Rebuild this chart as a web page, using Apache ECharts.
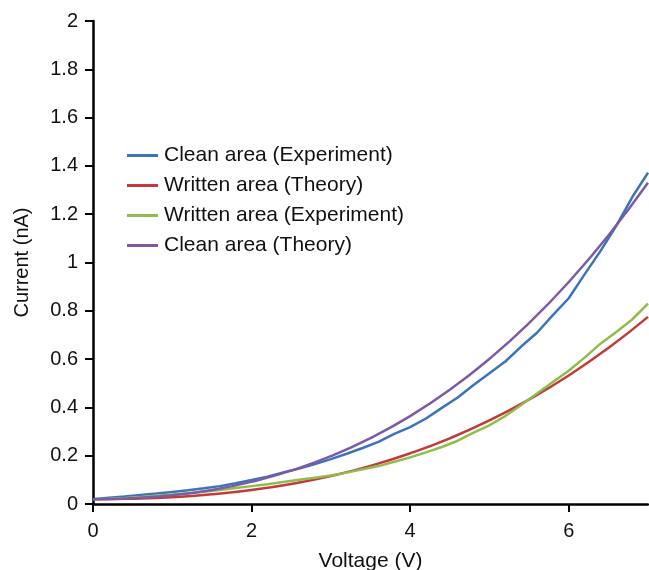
<!DOCTYPE html>
<html>
<head>
<meta charset="utf-8">
<script src="https://cdn.jsdelivr.net/npm/echarts@6/dist/echarts.min.js"></script>
<style>
  html, body { margin: 0; padding: 0; background: #fff; }
  #chart { width: 649px; height: 570px; }
</style>
</head>
<body>
<div id="chart"></div>
<script>
// voltage samples (V)
var vTheory = [0, 0.5, 1, 1.5, 2, 2.5, 3, 3.5, 4, 4.5, 5, 5.5, 6, 6.5, 7];
var vExp = [0, 0.2, 0.4, 0.6, 0.8, 1.0, 1.2, 1.4, 1.6, 1.8, 2.0, 2.2, 2.4, 2.6, 2.8, 3.0, 3.2, 3.4,
  3.6, 3.8, 4.0, 4.2, 4.4, 4.6, 4.8, 5.0, 5.2, 5.4, 5.6, 5.8, 6.0, 6.2, 6.4, 6.6, 6.8, 7.0];

// current (nA)
var cleanExp = [0.020, 0.026, 0.031, 0.037, 0.043, 0.050, 0.057, 0.065, 0.074, 0.086, 0.099, 0.113,
  0.131, 0.147, 0.165, 0.186, 0.208, 0.232, 0.257, 0.290, 0.318, 0.354, 0.398, 0.441, 0.493, 0.541,
  0.590, 0.652, 0.709, 0.782, 0.852, 0.951, 1.047, 1.152, 1.270, 1.372];
var writtenExp = [0.020, 0.022, 0.025, 0.029, 0.034, 0.039, 0.045, 0.051, 0.058, 0.066, 0.074, 0.082,
  0.091, 0.100, 0.109, 0.118, 0.130, 0.144, 0.157, 0.175, 0.193, 0.214, 0.236, 0.262, 0.296, 0.326,
  0.364, 0.410, 0.458, 0.505, 0.552, 0.606, 0.664, 0.712, 0.764, 0.830];
var writtenTheory = [0.020, 0.022, 0.028, 0.040, 0.058, 0.083, 0.116, 0.158, 0.210, 0.272, 0.346,
  0.433, 0.532, 0.646, 0.775];
var cleanTheory = [0.020, 0.024, 0.036, 0.058, 0.092, 0.138, 0.198, 0.273, 0.364, 0.473, 0.601,
  0.749, 0.919, 1.112, 1.330];

var xTicks = [0, 2, 4, 6];
var names = ['Clean area (Experiment)', 'Written area (Theory)', 'Written area (Experiment)', 'Clean area (Theory)'];
var colors = ['#3b74b8', '#c23b3b', '#8fbc4a', '#7d5aa6'];

function pairs(xs, ys) {
  return xs.map(function (x, i) { return [x, ys[i]]; });
}

var font = 'Liberation Sans, Arial, Helvetica, sans-serif';
var myChart = echarts.init(document.getElementById('chart'));

var option = {
  animation: false,
  color: colors,
  textStyle: { fontFamily: font },
  grid: { left: 93, right: 1, top: 21, bottom: 66, outerBoundsMode: 'none' },
  legend: {
    orient: 'vertical',
    left: 122,
    top: 140,
    icon: 'rect',
    itemWidth: 31,
    itemHeight: 3,
    itemGap: 9,
    textStyle: { fontSize: 21, color: '#111', lineHeight: 21, fontFamily: font, padding: [0, 0, 0, 1] },
    data: names
  },
  xAxis: {
    type: 'value',
    min: 0,
    max: 7,
    interval: 2,
    name: 'Voltage (V)',
    nameLocation: 'middle',
    nameGap: 47,
    nameTextStyle: { fontSize: 21, color: '#111', fontFamily: font },
    axisLine: { lineStyle: { color: '#000', width: 2.5 } },
    axisTick: { length: 8, customValues: xTicks, lineStyle: { color: '#000', width: 2 } },
    axisLabel: { customValues: xTicks, fontSize: 20, color: '#111', margin: 17, fontFamily: font },
    splitLine: { show: false }
  },
  yAxis: {
    type: 'value',
    min: 0,
    max: 2,
    interval: 0.2,
    name: 'Current (nA)',
    nameLocation: 'middle',
    nameGap: 61,
    nameTextStyle: { fontSize: 20, color: '#111', fontFamily: font },
    axisLine: { show: true, lineStyle: { color: '#000', width: 2.5 } },
    axisTick: { show: true, length: 8, lineStyle: { color: '#000', width: 2 } },
    axisLabel: { fontSize: 20, color: '#111', margin: 15, fontFamily: font },
    splitLine: { show: false }
  },
  series: [
    { name: names[0], type: 'line', data: pairs(vExp, cleanExp), showSymbol: false, lineStyle: { width: 2.5 }, z: 3 },
    { name: names[1], type: 'line', data: pairs(vTheory, writtenTheory), smooth: true, showSymbol: false, lineStyle: { width: 2.5 }, z: 2 },
    { name: names[2], type: 'line', data: pairs(vExp, writtenExp), showSymbol: false, lineStyle: { width: 2.5 }, z: 4 },
    { name: names[3], type: 'line', data: pairs(vTheory, cleanTheory), smooth: true, showSymbol: false, lineStyle: { width: 2.5 }, z: 5 }
  ]
};

myChart.setOption(option);
</script>
</body>
</html>
